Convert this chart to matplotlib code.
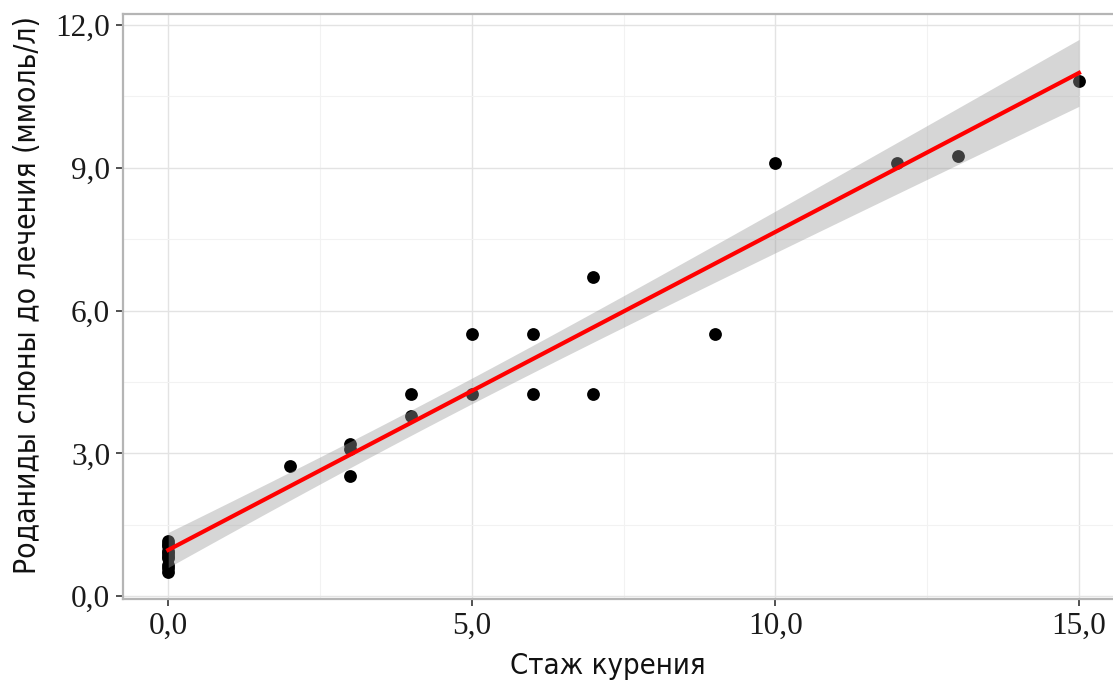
import numpy as np
import matplotlib
matplotlib.use("Agg")
import matplotlib.pyplot as plt
from matplotlib.ticker import MultipleLocator, FuncFormatter

# smoking duration (years) vs saliva thiocyanates before treatment
# (several non-smokers overlap at x = 0)
smoking_years = [0, 0, 0, 0, 0, 0, 0, 0, 0, 0,
                 2, 3, 3, 3, 4, 4, 5, 5, 6, 6, 7, 7, 9, 10, 12, 13, 15]
thiocyanates = [1.15, 1.1, 1.05, 0.95, 0.9, 0.85, 0.8, 0.65, 0.6, 0.5,
                2.74, 3.2, 3.1, 2.53, 4.25, 3.79, 5.5, 4.25, 5.5, 4.25,
                6.7, 4.25, 5.5, 9.09, 9.09, 9.24, 10.83]

x_label = "Стаж курения"
y_label = "Роданиды слюны до лечения (ммоль/л)"

label_font = ["Liberation Sans Narrow", "DejaVu Sans"]
tick_font = ["Liberation Serif", "DejaVu Serif"]


def lm_fit(x, y, grid, t_crit=2.06):
    # ordinary least squares + 95% confidence band for the mean
    x = np.asarray(x, float)
    y = np.asarray(y, float)
    n = len(x)
    b, a = np.polyfit(x, y, 1)
    resid = y - (a + b * x)
    s = np.sqrt(np.sum(resid ** 2) / (n - 2))
    sxx = np.sum((x - x.mean()) ** 2)
    fit = a + b * grid
    se = s * np.sqrt(1.0 / n + (grid - x.mean()) ** 2 / sxx)
    return fit, fit - t_crit * se, fit + t_crit * se


fig = plt.figure(figsize=(11.13, 6.84), dpi=100)
ax = fig.add_axes([122.7 / 1113, 1 - 599 / 684, (1124.5 - 122.7) / 1113, (599 - 14) / 684])

grid_x = np.linspace(min(smoking_years), max(smoking_years), 200)
fit, lo, hi = lm_fit(smoking_years, thiocyanates, grid_x)

ax.scatter(smoking_years, thiocyanates, s=85, color="black", linewidths=0, zorder=3)
ax.fill_between(grid_x, lo, hi, color="#999999", alpha=0.4, linewidth=0, zorder=4)
ax.plot(grid_x, fit, color="red", linewidth=3.0, zorder=5)

ax.set_xlim(-0.75, 15.75)
ax.set_ylim(-0.06, 12.23)
ax.xaxis.set_major_locator(MultipleLocator(5))
ax.xaxis.set_minor_locator(MultipleLocator(2.5))
ax.yaxis.set_major_locator(MultipleLocator(3))
ax.yaxis.set_minor_locator(MultipleLocator(1.5))
fmt = FuncFormatter(lambda v, p: f"{v:.1f}".replace(".", ","))
ax.xaxis.set_major_formatter(fmt)
ax.yaxis.set_major_formatter(fmt)

ax.grid(which="major", color="#e3e3e3", linewidth=1.0, zorder=0)
ax.grid(which="minor", color="#f2f2f2", linewidth=0.8, zorder=0)
ax.set_axisbelow(True)

for side in ["left", "bottom", "top", "right"]:
    ax.spines[side].set_color("#b5b5b5")
    ax.spines[side].set_linewidth(1.6)

ax.tick_params(which="major", length=5, width=1.2, color="#333333", pad=4)
ax.tick_params(which="minor", length=0)
for lab in ax.get_xticklabels() + ax.get_yticklabels():
    lab.set_family(tick_font)
    lab.set_fontsize(22.5)
    lab.set_color("#1a1a1a")

ax.set_xlabel(x_label, family=label_font, stretch="condensed", fontsize=21,
              color="#111111", labelpad=8)
ax.set_ylabel(y_label, family=label_font, stretch="condensed", fontsize=21.5,
              color="#111111", labelpad=10)
# the labels sit centred on the visible part of the panel
ax.xaxis.label.set_x(0.484)
ax.yaxis.label.set_y(0.52)

fig.savefig("out.png", dpi=100)
